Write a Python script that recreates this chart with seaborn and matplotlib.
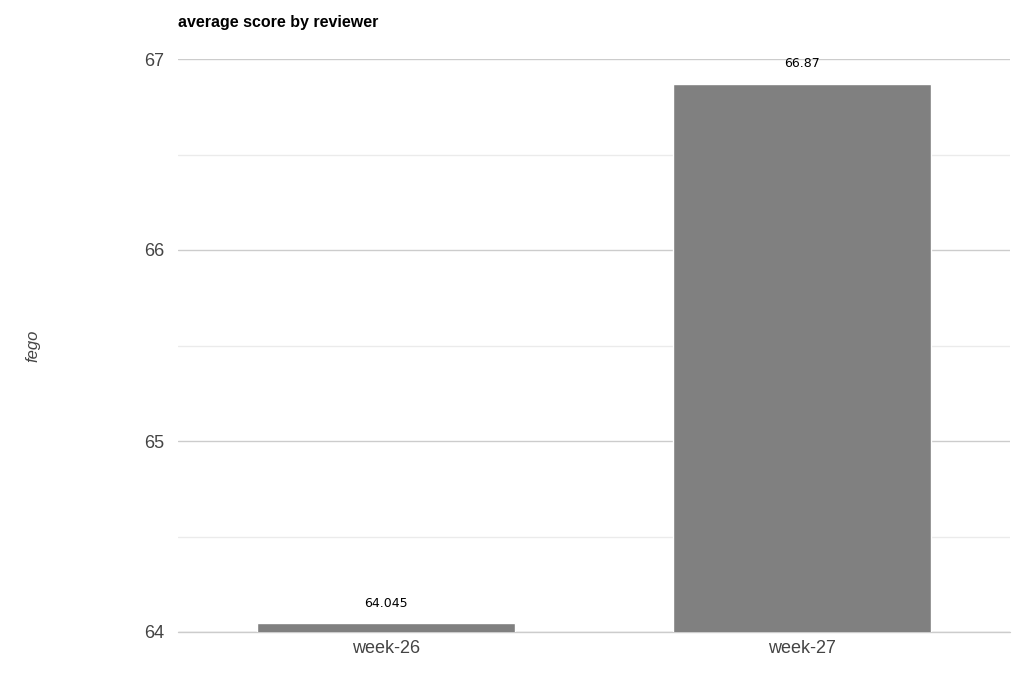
import matplotlib.pyplot as plt
import pandas as pd
import seaborn as sns

weeks = ["week-26", "week-27"]
scores = [64.045, 66.87]
score_labels = ["64.045", "66.87"]

df = pd.DataFrame({"week": weeks, "score": scores})

sns.set_style("white")
plt.rcParams["font.family"] = ["Liberation Sans", "DejaVu Sans"]

fig = plt.figure(figsize=(10.19, 6.83), dpi=100)
ax = fig.add_axes([178 / 1019, 51 / 683, 832 / 1019, 573 / 683])

sns.barplot(data=df, x="week", y="score", color="#808080", saturation=1,
            width=0.62, ax=ax, zorder=3)

ax.set_ylim(64, 67)
ax.set_yticks([64, 65, 66, 67])
ax.set_yticks([64.5, 65.5, 66.5], minor=True)
ax.grid(axis="y", which="major", color="#cccccc", linewidth=1, zorder=0)
ax.grid(axis="y", which="minor", color="#ebebeb", linewidth=1, zorder=0)
ax.axhline(64, color="#cccccc", linewidth=1, zorder=1, clip_on=False)
ax.set_axisbelow(True)
for s in ax.spines.values():
    s.set_visible(False)
ax.tick_params(axis="both", which="both", length=0, labelsize=13,
               labelcolor="#444444")
ax.tick_params(axis="y", pad=10)
ax.tick_params(axis="x", pad=6)

for i, (v, lab) in enumerate(zip(scores, score_labels)):
    ax.annotate(lab, (i, v), xytext=(0, 10), textcoords="offset points",
                ha="center", va="bottom", fontsize=9, color="#000000",
                family=["DejaVu Sans"])

ax.set_xlabel("")
ax.set_ylabel("fego", fontsize=12, style="italic", color="#444444")
ax.yaxis.set_label_coords((40 - 178) / 832, 0.5)
fig.text(178 / 1019, 1 - 22 / 683, "average score by reviewer",
         fontsize=11.5, fontweight="bold", ha="left", va="center",
         color="#000000")

fig.savefig("out.png", dpi=100)
